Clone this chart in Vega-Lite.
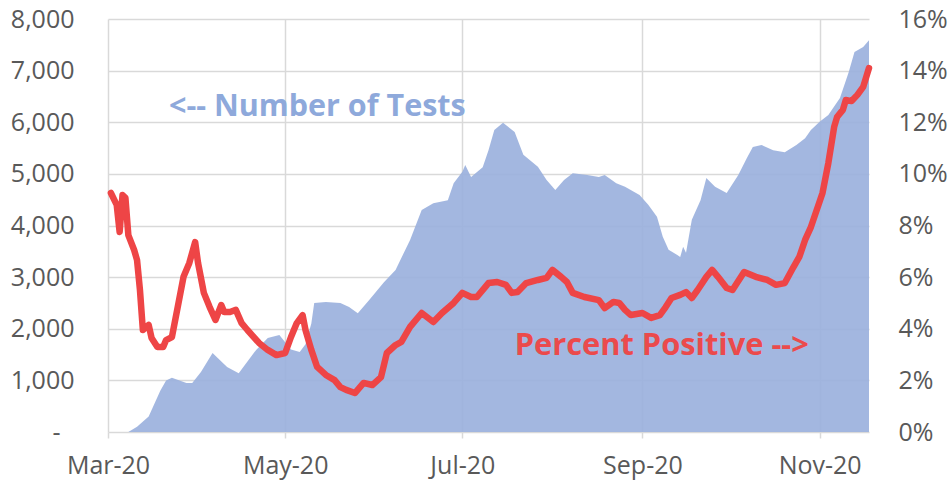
{
  "$schema": "https://vega.github.io/schema/vega-lite/v6.json",
  "width": 761,
  "height": 413,
  "autosize": {"type": "none"},
  "padding": {"left": 108, "top": 19, "right": 79, "bottom": 52},
  "background": "white",
  "config": {
    "view": {"stroke": null},
    "axis": {"labelFont": "Open Sans", "labelColor": "#595959", "labelFontSize": 25, "title": null, "gridColor": "#D9D9D9", "gridWidth": 1.5, "tickColor": "#D9D9D9", "tickWidth": 1.5}
  },
  "datasets": {
    "tests": [
      {"date": "2020/03/01", "tests": 0},
      {"date": "2020/03/08", "tests": 0},
      {"date": "2020/03/11", "tests": 100},
      {"date": "2020/03/15", "tests": 300},
      {"date": "2020/03/19", "tests": 800},
      {"date": "2020/03/21", "tests": 1000},
      {"date": "2020/03/23", "tests": 1050},
      {"date": "2020/03/28", "tests": 950},
      {"date": "2020/03/30", "tests": 950},
      {"date": "2020/04/02", "tests": 1160},
      {"date": "2020/04/06", "tests": 1530},
      {"date": "2020/04/11", "tests": 1260},
      {"date": "2020/04/15", "tests": 1140},
      {"date": "2020/04/21", "tests": 1590},
      {"date": "2020/04/25", "tests": 1820},
      {"date": "2020/04/29", "tests": 1880},
      {"date": "2020/05/03", "tests": 1600},
      {"date": "2020/05/06", "tests": 1550},
      {"date": "2020/05/08", "tests": 1700},
      {"date": "2020/05/10", "tests": 2100},
      {"date": "2020/05/11", "tests": 2500},
      {"date": "2020/05/15", "tests": 2520},
      {"date": "2020/05/20", "tests": 2500},
      {"date": "2020/05/23", "tests": 2420},
      {"date": "2020/05/26", "tests": 2300},
      {"date": "2020/05/30", "tests": 2560},
      {"date": "2020/06/04", "tests": 2900},
      {"date": "2020/06/08", "tests": 3140},
      {"date": "2020/06/13", "tests": 3720},
      {"date": "2020/06/17", "tests": 4300},
      {"date": "2020/06/21", "tests": 4430},
      {"date": "2020/06/26", "tests": 4490},
      {"date": "2020/06/28", "tests": 4820},
      {"date": "2020/07/01", "tests": 5040},
      {"date": "2020/07/02", "tests": 5170},
      {"date": "2020/07/04", "tests": 4940},
      {"date": "2020/07/08", "tests": 5130},
      {"date": "2020/07/10", "tests": 5460},
      {"date": "2020/07/12", "tests": 5850},
      {"date": "2020/07/15", "tests": 5990},
      {"date": "2020/07/19", "tests": 5810},
      {"date": "2020/07/22", "tests": 5370},
      {"date": "2020/07/27", "tests": 5140},
      {"date": "2020/07/30", "tests": 4880},
      {"date": "2020/08/02", "tests": 4690},
      {"date": "2020/08/05", "tests": 4880},
      {"date": "2020/08/08", "tests": 5010},
      {"date": "2020/08/13", "tests": 4980},
      {"date": "2020/08/17", "tests": 4940},
      {"date": "2020/08/19", "tests": 4980},
      {"date": "2020/08/23", "tests": 4820},
      {"date": "2020/08/26", "tests": 4750},
      {"date": "2020/08/31", "tests": 4590},
      {"date": "2020/09/03", "tests": 4400},
      {"date": "2020/09/06", "tests": 4170},
      {"date": "2020/09/08", "tests": 3780},
      {"date": "2020/09/10", "tests": 3530},
      {"date": "2020/09/13", "tests": 3430},
      {"date": "2020/09/14", "tests": 3390},
      {"date": "2020/09/15", "tests": 3590},
      {"date": "2020/09/16", "tests": 3470},
      {"date": "2020/09/18", "tests": 4110},
      {"date": "2020/09/21", "tests": 4490},
      {"date": "2020/09/23", "tests": 4920},
      {"date": "2020/09/26", "tests": 4750},
      {"date": "2020/09/30", "tests": 4630},
      {"date": "2020/10/04", "tests": 4980},
      {"date": "2020/10/07", "tests": 5310},
      {"date": "2020/10/09", "tests": 5520},
      {"date": "2020/10/12", "tests": 5560},
      {"date": "2020/10/16", "tests": 5460},
      {"date": "2020/10/20", "tests": 5420},
      {"date": "2020/10/24", "tests": 5560},
      {"date": "2020/10/27", "tests": 5690},
      {"date": "2020/10/29", "tests": 5850},
      {"date": "2020/11/01", "tests": 6010},
      {"date": "2020/11/04", "tests": 6140},
      {"date": "2020/11/08", "tests": 6470},
      {"date": "2020/11/11", "tests": 6970},
      {"date": "2020/11/13", "tests": 7360},
      {"date": "2020/11/16", "tests": 7460},
      {"date": "2020/11/18", "tests": 7590}
    ],
    "pct": [
      {"date": "2020/03/02", "pct": 9.26},
      {"date": "2020/03/04", "pct": 8.8},
      {"date": "2020/03/05", "pct": 7.75},
      {"date": "2020/03/06", "pct": 9.18},
      {"date": "2020/03/07", "pct": 9.07},
      {"date": "2020/03/08", "pct": 7.63},
      {"date": "2020/03/10", "pct": 7.05},
      {"date": "2020/03/11", "pct": 6.66},
      {"date": "2020/03/12", "pct": 5.5},
      {"date": "2020/03/13", "pct": 3.95},
      {"date": "2020/03/15", "pct": 4.15},
      {"date": "2020/03/16", "pct": 3.64},
      {"date": "2020/03/18", "pct": 3.29},
      {"date": "2020/03/20", "pct": 3.29},
      {"date": "2020/03/21", "pct": 3.56},
      {"date": "2020/03/23", "pct": 3.68},
      {"date": "2020/03/25", "pct": 4.84},
      {"date": "2020/03/27", "pct": 6.01},
      {"date": "2020/03/29", "pct": 6.55},
      {"date": "2020/03/31", "pct": 7.36},
      {"date": "2020/04/01", "pct": 6.55},
      {"date": "2020/04/03", "pct": 5.39},
      {"date": "2020/04/05", "pct": 4.84},
      {"date": "2020/04/07", "pct": 4.34},
      {"date": "2020/04/09", "pct": 4.92},
      {"date": "2020/04/10", "pct": 4.65},
      {"date": "2020/04/12", "pct": 4.65},
      {"date": "2020/04/14", "pct": 4.73},
      {"date": "2020/04/16", "pct": 4.22},
      {"date": "2020/04/18", "pct": 3.95},
      {"date": "2020/04/22", "pct": 3.45},
      {"date": "2020/04/25", "pct": 3.18},
      {"date": "2020/04/28", "pct": 2.98},
      {"date": "2020/05/01", "pct": 3.06},
      {"date": "2020/05/03", "pct": 3.68},
      {"date": "2020/05/05", "pct": 4.22},
      {"date": "2020/05/07", "pct": 4.53},
      {"date": "2020/05/08", "pct": 3.95},
      {"date": "2020/05/10", "pct": 3.18},
      {"date": "2020/05/12", "pct": 2.52},
      {"date": "2020/05/15", "pct": 2.21},
      {"date": "2020/05/18", "pct": 2.01},
      {"date": "2020/05/20", "pct": 1.74},
      {"date": "2020/05/22", "pct": 1.63},
      {"date": "2020/05/25", "pct": 1.51},
      {"date": "2020/05/28", "pct": 1.9},
      {"date": "2020/05/31", "pct": 1.82},
      {"date": "2020/06/03", "pct": 2.13},
      {"date": "2020/06/05", "pct": 3.06},
      {"date": "2020/06/08", "pct": 3.37},
      {"date": "2020/06/10", "pct": 3.49},
      {"date": "2020/06/13", "pct": 4.07},
      {"date": "2020/06/17", "pct": 4.61},
      {"date": "2020/06/21", "pct": 4.26},
      {"date": "2020/06/24", "pct": 4.61},
      {"date": "2020/06/28", "pct": 5.0},
      {"date": "2020/07/01", "pct": 5.39},
      {"date": "2020/07/04", "pct": 5.23},
      {"date": "2020/07/06", "pct": 5.23},
      {"date": "2020/07/10", "pct": 5.77},
      {"date": "2020/07/13", "pct": 5.81},
      {"date": "2020/07/16", "pct": 5.7},
      {"date": "2020/07/18", "pct": 5.39},
      {"date": "2020/07/20", "pct": 5.42},
      {"date": "2020/07/23", "pct": 5.77},
      {"date": "2020/07/27", "pct": 5.89},
      {"date": "2020/07/30", "pct": 5.97},
      {"date": "2020/08/01", "pct": 6.28},
      {"date": "2020/08/04", "pct": 6.01},
      {"date": "2020/08/06", "pct": 5.81},
      {"date": "2020/08/08", "pct": 5.39},
      {"date": "2020/08/12", "pct": 5.23},
      {"date": "2020/08/17", "pct": 5.11},
      {"date": "2020/08/19", "pct": 4.8},
      {"date": "2020/08/22", "pct": 5.04},
      {"date": "2020/08/24", "pct": 5.0},
      {"date": "2020/08/26", "pct": 4.73},
      {"date": "2020/08/28", "pct": 4.53},
      {"date": "2020/09/01", "pct": 4.61},
      {"date": "2020/09/04", "pct": 4.42},
      {"date": "2020/09/07", "pct": 4.53},
      {"date": "2020/09/09", "pct": 4.84},
      {"date": "2020/09/11", "pct": 5.19},
      {"date": "2020/09/14", "pct": 5.31},
      {"date": "2020/09/16", "pct": 5.42},
      {"date": "2020/09/18", "pct": 5.19},
      {"date": "2020/09/20", "pct": 5.5},
      {"date": "2020/09/23", "pct": 6.01},
      {"date": "2020/09/25", "pct": 6.28},
      {"date": "2020/09/27", "pct": 6.01},
      {"date": "2020/09/30", "pct": 5.58},
      {"date": "2020/10/02", "pct": 5.5},
      {"date": "2020/10/06", "pct": 6.2},
      {"date": "2020/10/10", "pct": 6.01},
      {"date": "2020/10/14", "pct": 5.89},
      {"date": "2020/10/17", "pct": 5.7},
      {"date": "2020/10/20", "pct": 5.77},
      {"date": "2020/10/23", "pct": 6.39},
      {"date": "2020/10/25", "pct": 6.78},
      {"date": "2020/10/27", "pct": 7.44},
      {"date": "2020/10/29", "pct": 7.94},
      {"date": "2020/10/31", "pct": 8.6},
      {"date": "2020/11/02", "pct": 9.26},
      {"date": "2020/11/04", "pct": 10.42},
      {"date": "2020/11/06", "pct": 11.82},
      {"date": "2020/11/07", "pct": 12.2},
      {"date": "2020/11/09", "pct": 12.48},
      {"date": "2020/11/10", "pct": 12.86},
      {"date": "2020/11/12", "pct": 12.82},
      {"date": "2020/11/14", "pct": 13.06},
      {"date": "2020/11/16", "pct": 13.37},
      {"date": "2020/11/18", "pct": 14.1}
    ],
    "lab1": [{"date": "2020/03/22", "tests": 6121, "label": "<-- Number of Tests"}],
    "lab2": [{"date": "2020/07/19", "tests": 1492, "label": "Percent Positive -->"}]
  },
  "layer": [
    {
      "layer": [
        {
          "data": {"name": "tests"},
          "mark": {"type": "area", "color": "#99AFDD", "opacity": 0.9, "interpolate": "linear"},
          "encoding": {
            "x": {"field": "date", "type": "temporal",
              "scale": {"domain": [{"year": 2020, "month": 3, "date": 1}, {"year": 2020, "month": 11, "date": 18}]},
              "axis": {"values": [{"year": 2020, "month": 3, "date": 1}, {"year": 2020, "month": 5, "date": 1}, {"year": 2020, "month": 7, "date": 1}, {"year": 2020, "month": 9, "date": 1}, {"year": 2020, "month": 11, "date": 1}],
                "format": "%b-%y", "grid": true, "domain": false, "tickSize": 6, "labelPadding": 15, "labelFlush": false}},
            "y": {"field": "tests", "type": "quantitative",
              "scale": {"domain": [0, 8000], "nice": false},
              "axis": {"values": [0, 1000, 2000, 3000, 4000, 5000, 6000, 7000, 8000], "grid": true, "domain": false, "ticks": false,
                "labelPadding": {"condition": {"test": "datum.value == 0", "value": 48}, "value": 34},
                "labelExpr": "datum.value == 0 ? '-' : format(datum.value, ',')"}}
          }
        },
        {
          "data": {"name": "lab1"},
          "mark": {"type": "text", "align": "left", "baseline": "alphabetic", "font": "Open Sans", "fontWeight": "bold", "fontSize": 30.5, "color": "#8EA9DB"},
          "encoding": {
            "x": {"field": "date", "type": "temporal"},
            "y": {"field": "tests", "type": "quantitative"},
            "text": {"field": "label"}
          }
        },
        {
          "data": {"name": "lab2"},
          "mark": {"type": "text", "align": "left", "baseline": "alphabetic", "font": "Open Sans", "fontWeight": "bold", "fontSize": 30.8, "color": "#EB4A4C"},
          "encoding": {
            "x": {"field": "date", "type": "temporal"},
            "y": {"field": "tests", "type": "quantitative"},
            "text": {"field": "label"}
          }
        }
      ]
    },
    {
      "data": {"name": "pct"},
      "mark": {"type": "line", "color": "#EE4546", "strokeWidth": 6.5, "strokeJoin": "round", "strokeCap": "round"},
      "encoding": {
        "x": {"field": "date", "type": "temporal"},
        "y": {"field": "pct", "type": "quantitative",
          "scale": {"domain": [0, 16], "nice": false},
          "axis": {"orient": "right", "values": [0, 2, 4, 6, 8, 10, 12, 14, 16], "grid": false, "domain": false, "ticks": false, "labelPadding": 29,
            "labelExpr": "datum.value + '%'"}}
      }
    }
  ],
  "resolve": {"scale": {"y": "independent"}}
}
